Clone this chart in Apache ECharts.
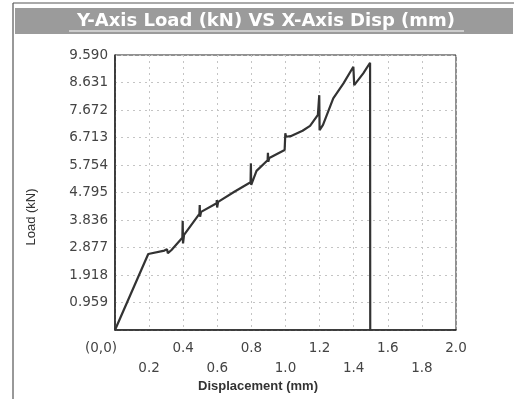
<!DOCTYPE html>
<html>
<head>
<meta charset="utf-8">
<script src="https://cdn.jsdelivr.net/npm/echarts@6/dist/echarts.min.js"></script>
<style>
html,body{margin:0;padding:0;background:#fff;}
#c{width:529px;height:399px;}
</style>
</head>
<body>
<div id="c"></div>
<script>
var titleText = 'Y-Axis Load (kN) VS X-Axis Disp (mm)';
var xAxisName = 'Displacement (mm)';
var yAxisName = 'Load (kN)';
var dispValues = [0, 0.195, 0.29, 0.305, 0.31, 0.33, 0.395, 0.397, 0.399, 0.405,
  0.495, 0.497, 0.499, 0.505, 0.596, 0.597, 0.599, 0.605, 0.70, 0.795, 0.797, 0.799, 0.83,
  0.895, 0.897, 0.899, 0.905, 0.995, 0.997, 0.999, 1.003, 1.03, 1.10, 1.144, 1.19,
  1.198, 1.2, 1.22, 1.28, 1.34, 1.398, 1.403, 1.456, 1.496, 1.497];
var loadValues = [0, 2.65, 2.77, 2.82, 2.68, 2.78, 3.22, 3.80, 3.02, 3.32,
  4.05, 4.36, 3.95, 4.12, 4.42, 4.53, 4.27, 4.47, 4.82, 5.15, 5.81, 5.06, 5.55,
  5.92, 6.18, 5.87, 6.0, 6.28, 6.22, 6.86, 6.74, 6.76, 6.95, 7.12, 7.5,
  8.19, 6.97, 7.15, 8.08, 8.6, 9.18, 8.54, 8.95, 9.32, 0];
var yMax = 9.59, yStep = 0.959;
var xMax = 2.0, xStep = 0.2;

var chart = echarts.init(document.getElementById('c'), null, {renderer: 'canvas'});
var pts = dispValues.map(function (d, i) { return [d, loadValues[i]]; });
var font = 'DejaVu Sans';
function isOdd(v) { return Math.round(v / xStep) % 2 === 1; }
chart.setOption({
  backgroundColor: '#ffffff',
  animation: false,
  grid: {left: 115, right: 73, top: 55, bottom: 69, show: true, borderColor: '#222', borderWidth: 1},
  xAxis: [{
    type: 'value', min: 0, max: xMax, interval: xStep,
    axisLine: {show: true, lineStyle: {color: '#222', width: 1.5}},
    axisTick: {show: false},
    splitLine: {show: true, lineStyle: {color: '#c4c4c4', type: [2, 4], width: 1}},
    axisLabel: {
      color: '#444', fontFamily: font, fontSize: 13.5, margin: 11,
      interval: 0, showMaxLabel: true, showMinLabel: true,
      formatter: function (v) {
        if (v === 0) return '{z|(0,0)}';
        return isOdd(v) ? '' : v.toFixed(1);
      },
      rich: {z: {fontFamily: font, fontSize: 13.5, color: '#444', padding: [0, 28, 0, 0]}}
    }
  }, {
    type: 'value', position: 'bottom', offset: 20, min: 0, max: xMax, interval: xStep,
    axisLine: {show: false}, axisTick: {show: false}, splitLine: {show: false},
    axisLabel: {
      color: '#444', fontFamily: font, fontSize: 13.5, margin: 11,
      interval: 0, showMaxLabel: true, showMinLabel: true,
      formatter: function (v) { return isOdd(v) ? v.toFixed(1) : ''; }
    }
  }],
  yAxis: {
    type: 'value', min: 0, max: yMax, interval: yStep,
    axisLine: {show: true, lineStyle: {color: '#222', width: 1.5}},
    axisTick: {show: false},
    splitLine: {show: true, lineStyle: {color: '#c4c4c4', type: [2, 4], width: 1}},
    axisLabel: {
      color: '#444', fontFamily: font, fontSize: 13.5, margin: 7,
      formatter: function (v) { return v === 0 ? '' : v.toFixed(3); }
    }
  },
  series: [{
    type: 'line', xAxisIndex: 0, data: pts, showSymbol: false, symbol: 'none', smooth: false,
    lineStyle: {color: '#333', width: 2.2}
  }],
  graphic: [
    {type: 'line', shape: {x1: 13, y1: 3, x2: 13, y2: 399}, style: {stroke: '#333', lineWidth: 1}},
    {type: 'line', shape: {x1: 13, y1: 3, x2: 514, y2: 3}, style: {stroke: '#555', lineWidth: 1}},
    {type: 'rect', shape: {x: 15, y: 8, width: 498, height: 26}, style: {fill: '#9b9b9b'}},
    {type: 'text', x: 266, y: 21, style: {text: titleText, fill: '#ffffff', font: 'bold 18px "DejaVu Sans"', textAlign: 'center', textVerticalAlign: 'middle'}},
    {type: 'line', shape: {x1: 69, y1: 31, x2: 464, y2: 31}, style: {stroke: '#ffffff', lineWidth: 1}},
    {type: 'text', x: 258, y: 386, style: {text: xAxisName, fill: '#333', font: 'bold 13px "Liberation Sans"', textAlign: 'center', textVerticalAlign: 'middle'}},
    {type: 'text', x: 31, y: 217, rotation: Math.PI / 2, style: {text: yAxisName, fill: '#333', font: '13px "Liberation Sans"', textAlign: 'center', textVerticalAlign: 'middle'}}
  ]
});
</script>
</body>
</html>
